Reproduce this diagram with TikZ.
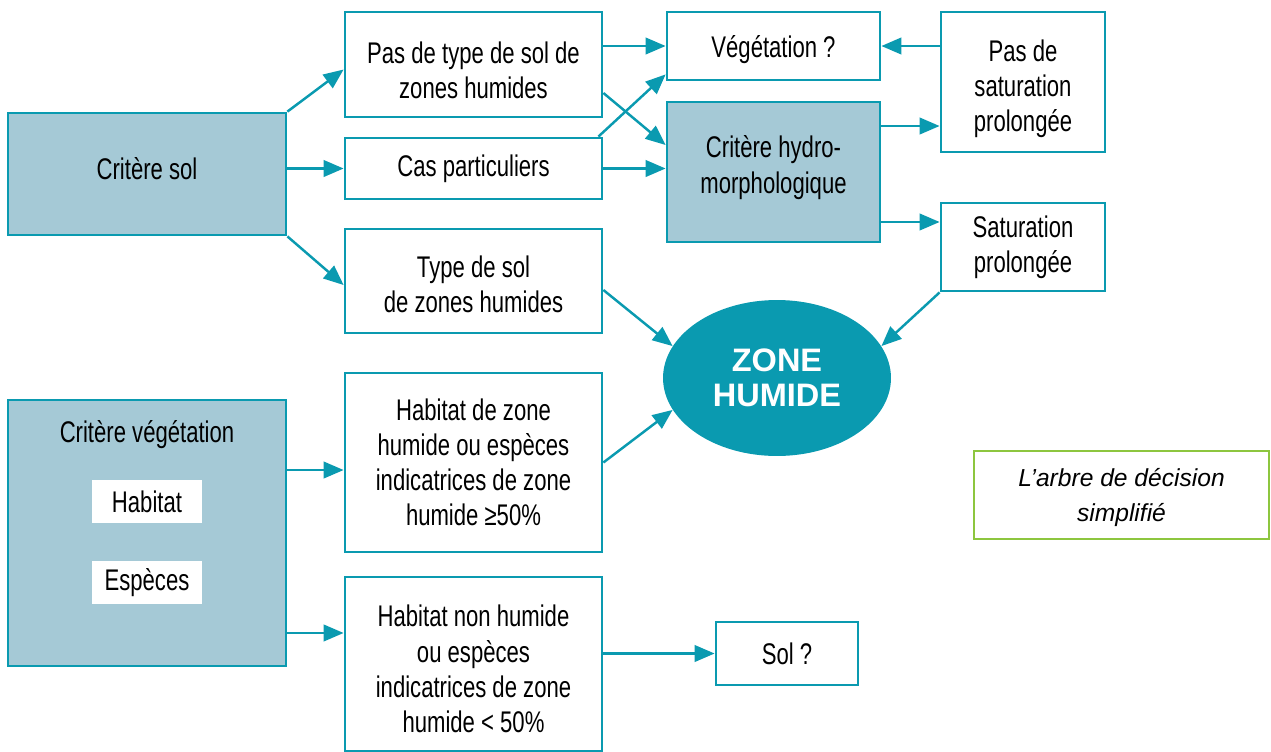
\documentclass[tikz,border=0pt]{standalone}
\usepackage{fontspec}
\setmainfont{Liberation Sans}
\newfontfamily\condfont{Liberation Sans}[FakeStretch=0.74]
\usepackage{tikz}
\usetikzlibrary{arrows.meta,shapes.geometric}

\definecolor{teal}{HTML}{0A9AB0}
\definecolor{paleblue}{HTML}{A5C9D6}
\definecolor{leaf}{HTML}{8DC63F}

\begin{document}
\begin{tikzpicture}[x=0.02cm, y=-0.02cm,
  box/.style={draw=teal, line width=1.6pt, fill=white, align=center,
    font=\condfont\fontsize{17}{20}\selectfont, inner sep=2pt},
  keybox/.style={box, fill=paleblue},
  tag/.style={fill=white, minimum width=2.2cm, minimum height=0.86cm,
    font=\condfont\fontsize{17}{20}\selectfont},
  arr/.style={draw=teal, line width=1.4pt, -{Triangle[length=4mm,width=3.3mm]}},
]

\useasboundingbox (0,0) rectangle (1271,751);

\node[keybox, minimum width=5.56cm, minimum height=2.44cm, text depth=6.8pt] (sol) at (147,174) {Critère sol};
\node[box, minimum width=5.14cm, minimum height=2.10cm, text height=39pt] (pastype) at (473.5,64.5) {Pas de type de sol de\\zones humides};
\node[box, minimum width=5.14cm, minimum height=1.22cm] (cas) at (473.5,168.5) {Cas particuliers};
\node[box, minimum width=5.14cm, minimum height=2.08cm, text height=36pt] (typesol) at (473.5,281) {Type de sol\\de zones humides};

\node[box, minimum width=4.26cm, minimum height=1.36cm, text depth=0pt] (vegq) at (773.5,46) {Végétation ?};
\node[keybox, minimum width=4.26cm, minimum height=2.80cm, text depth=0.3cm] (hydro) at (773.5,172) {Critère hydro-\\morphologique};
\node[box, minimum width=3.28cm, minimum height=2.80cm, text height=60pt] (passat) at (1023,82) {Pas de\\saturation\\prolongée};
\node[box, minimum width=3.28cm, minimum height=1.76cm] (sat) at (1023,247) {Saturation\\prolongée};

\node[ellipse, fill=teal, minimum width=4.56cm, minimum height=3.12cm, text=white, align=center,
  font=\bfseries\fontsize{18.5}{20}\selectfont] (zone) at (777,378) {ZONE\\HUMIDE};

\node[keybox, minimum width=5.56cm, minimum height=5.32cm] (veg) at (147,533) {};
\node[font=\condfont\fontsize{17}{20}\selectfont] (vegtitle) at (147,435) {Critère végétation};
\node[tag] (habitat) at (147,501.5) {Habitat};
\node[tag] (especes) at (147,582.5) {Espèces};

\node[box, minimum width=5.14cm, minimum height=3.58cm] (habzh) at (473.5,462.5) {Habitat de zone\\humide ou espèces\\indicatrices de zone\\humide ≥50\%};
\node[box, minimum width=5.14cm, minimum height=3.48cm, text height=78pt] (habnon) at (473.5,664) {Habitat non humide\\ou espèces\\indicatrices de zone\\humide < 50\%};
\node[box, minimum width=2.84cm, minimum height=1.26cm] (solq) at (787,653.5) {Sol ?};

\node[draw=leaf, line width=1.6pt, minimum width=5.9cm, minimum height=1.76cm, align=center,
  text depth=0pt, font=\itshape\fontsize{14}{20}\selectfont] (note) at (1121.5,495) {L’arbre de décision\\simplifié};

% critere sol
\draw[arr] (sol.north east) -- ([yshift=-0.1cm]pastype.west);
\draw[arr] (sol.east |- cas.west) -- (cas.west);
\draw[arr] (sol.south east) -- ([yshift=-0.08cm]typesol.west);

\draw[arr] (pastype.east |- vegq.west) -- (vegq.west);
\draw[arr] ([yshift=-0.57cm]pastype.east) -- ([yshift=0.54cm]hydro.west);
\draw[arr] ([xshift=-0.1cm]cas.north east) -- ([yshift=0.14cm]vegq.south west);
\draw[arr] (cas.east) -- (cas.east -| hydro.west);

\draw[arr] (passat.west |- vegq.east) -- (vegq.east);
\draw[arr] ([yshift=0.92cm]hydro.east) coordinate (h1) -- (h1 -| passat.west);
\draw[arr] ([yshift=-1.0cm]hydro.east) coordinate (h2) -- (h2 -| sat.west);

\draw[arr] ([yshift=-0.18cm]typesol.east) -- (zone.163);
\draw[arr] (sat.south west) -- (zone.17);
\draw[arr] (habzh.east) -- (zone.197);

% critere vegetation
\draw[arr] ([yshift=1.26cm]veg.east) coordinate (v1) -- (v1 -| habzh.west);
\draw[arr] ([yshift=-2.0cm]veg.east) coordinate (v2) -- (v2 -| habnon.west);
\draw[arr] (habnon.east |- solq.west) -- (solq.west);

\end{tikzpicture}
\end{document}
